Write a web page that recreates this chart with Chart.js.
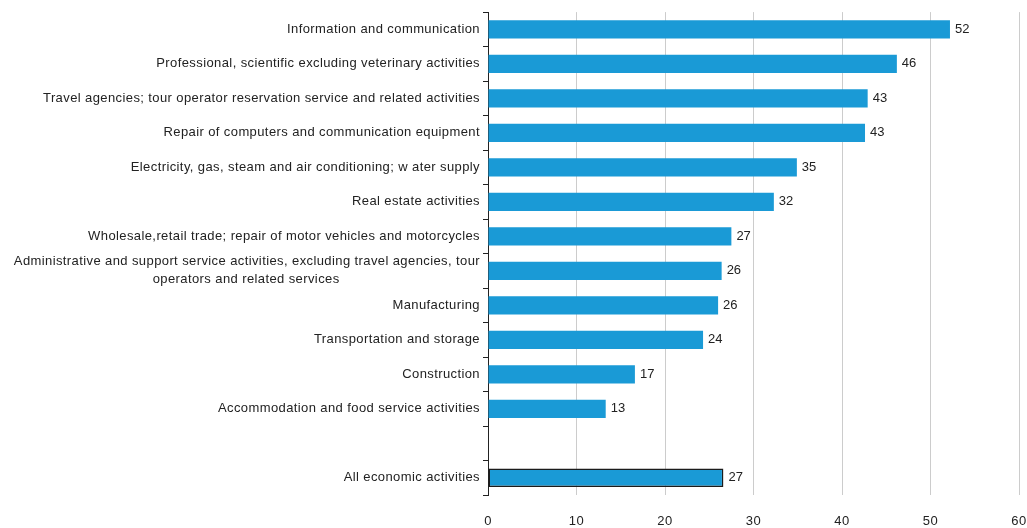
<!DOCTYPE html>
<html>
<head>
<meta charset="utf-8">
<script src="https://cdn.jsdelivr.net/npm/chart.js@4/dist/chart.umd.min.js"></script>
<style>
  body { margin: 0; background: #fff; }
  #grafico1 { width: 1027px; height: 528px; position: relative; }
</style>
</head>
<body>
<div id="grafico1"><canvas id="canvas1"></canvas></div>
<script>
// categorias (de cima para baixo), com uma linha vazia antes do total
const categorias = [
  "Information and communication",
  "Professional, scientific excluding veterinary activities",
  "Travel agencies; tour operator reservation service and related activities",
  "Repair of computers and communication equipment",
  "Electricity, gas, steam and air conditioning; w ater supply",
  "Real estate activities",
  "Wholesale,retail trade; repair of motor vehicles and motorcycles",
  ["Administrative and support service activities, excluding travel agencies, tour",
   "operators and related services" + " ".repeat(35)],
  "Manufacturing",
  "Transportation and storage",
  "Construction",
  "Accommodation and food service activities",
  "",
  "All economic activities"
];

const valores = [52.2, 46.2, 42.9, 42.6, 34.9, 32.3, 27.5, 26.4, 26.0, 24.3, 16.6, 13.3, null, 26.6];
const rotulos = ["52", "46", "43", "43", "35", "32", "27", "26", "26", "24", "17", "13", "", "27"];
const ticksX = [0, 10, 20, 30, 40, 50, 60];

const azul = "#1a9ad6";
const fonte = "'Liberation Sans', Arial, sans-serif";

// espaçamento de letras parecido com o original
const espacamento = {
  id: 'espacamento',
  beforeLayout(chart) { chart.ctx.letterSpacing = '0.4px'; },
  beforeDraw(chart) { chart.ctx.letterSpacing = '0.4px'; }
};

// escreve o valor ao lado de cada barra
const valoresPlugin = {
  id: 'valores',
  afterDatasetsDraw(chart) {
    const ctx = chart.ctx;
    const meta = chart.getDatasetMeta(0);
    ctx.save();
    ctx.letterSpacing = '0px';
    ctx.font = "13px " + fonte;
    ctx.fillStyle = "#222";
    ctx.textAlign = "left";
    ctx.textBaseline = "middle";
    meta.data.forEach((bar, i) => {
      if (valores[i] == null) return;
      ctx.fillText(rotulos[i], bar.x + 5, bar.y);
    });
    ctx.restore();
  }
};

new Chart(document.getElementById('canvas1'), {
  type: 'bar',
  data: {
    labels: categorias,
    datasets: [{
      data: valores,
      backgroundColor: azul,
      borderColor: valores.map((v, i) => i === valores.length - 1 ? "#1b1b1b" : "rgba(0,0,0,0)"),
      borderWidth: valores.map((v, i) => i === valores.length - 1 ? 1.5 : 0),
      borderSkipped: false,
      categoryPercentage: 1,
      barPercentage: 0.53
    }]
  },
  options: {
    indexAxis: 'y',
    responsive: true,
    maintainAspectRatio: false,
    animation: false,
    layout: { padding: { top: 12, right: 8, left: 0, bottom: 0 } },
    plugins: {
      legend: { display: false },
      tooltip: { enabled: false }
    },
    scales: {
      x: {
        min: 0,
        max: 60,
        afterBuildTicks: (scale) => { scale.ticks = ticksX.map(v => ({ value: v })); },
        afterFit: (scale) => {
          scale.height = 33;
          scale.paddingLeft = 0;
          scale.paddingRight = 0;
        },
        grid: { color: "#cccccc", drawTicks: false },
        border: { display: false },
        ticks: {
          padding: 19,
          color: "#222",
          font: { family: fonte, size: 13 }
        }
      },
      y: {
        afterFit: (scale) => { scale.width = 488; },
        grid: {
          drawOnChartArea: false,
          drawTicks: true,
          tickLength: 5,
          color: "#222"
        },
        border: { display: true, color: "#222", width: 1 },
        ticks: {
          padding: 3,
          color: "#222",
          autoSkip: false,
          font: { family: fonte, size: 13, lineHeight: 1.4 }
        }
      }
    }
  },
  plugins: [espacamento, valoresPlugin]
});
</script>
</body>
</html>
